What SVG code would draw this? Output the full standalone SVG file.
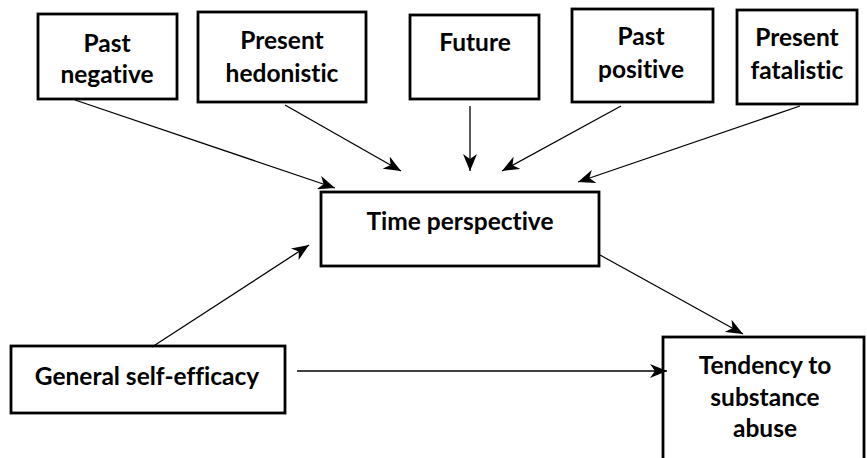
<svg xmlns="http://www.w3.org/2000/svg" width="867" height="458" viewBox="0 0 867 458">
<style>
.box{fill:#fff;stroke:#000;stroke-width:2.8}
.t{font-family:Lato,"Liberation Sans",sans-serif;font-weight:bold;font-size:24.5px;text-anchor:middle;fill:#000;font-variant-ligatures:none;font-feature-settings:"liga" 0}
.c{stroke:#000;stroke-width:1.3;fill:none;marker-end:url(#ah)}
</style>
<defs>
<marker id="ah" markerUnits="userSpaceOnUse" markerWidth="18" markerHeight="14" refX="17" refY="7" orient="auto">
<path d="M0,0 L17,7 L0,14 L5,7 z" fill="#000"/>
</marker>
</defs>
<rect width="867" height="458" fill="#fff"/>
<g id="past-negative"><rect class="box" x="38" y="14" width="139" height="85"/><text class="t" x="107" y="52">Past</text><text class="t" x="107" y="83">negative</text></g>
<g id="present-hedonistic"><rect class="box" x="198" y="12" width="168" height="90"/><text class="t" x="282" y="49">Present</text><text class="t" x="282" y="82">hedonistic</text></g>
<g id="future"><rect class="box" x="410" y="15" width="129" height="84"/><text class="t" x="475" y="51">Future</text></g>
<g id="past-positive"><rect class="box" x="572" y="9" width="141" height="93"/><text class="t" x="641" y="45">Past</text><text class="t" x="641" y="78">positive</text></g>
<g id="present-fatalistic"><rect class="box" x="737" y="10" width="120" height="94"/><text class="t" x="797" y="46">Present</text><text class="t" x="797" y="79">fatalistic</text></g>
<g id="time-perspective"><rect class="box" x="321" y="192" width="278" height="74"/><text class="t" x="460" y="230">Time perspective</text></g>
<g id="general-self-efficacy"><rect class="box" x="11" y="346" width="274" height="67"/><text class="t" x="147" y="385">General self-efficacy</text></g>
<g id="tendency"><rect class="box" x="663" y="337" width="201" height="130"/><text class="t" x="765" y="374">Tendency to</text><text class="t" x="765" y="406">substance</text><text class="t" x="765" y="437">abuse</text></g>
<g id="connectors">
<line class="c" x1="75" y1="100" x2="335" y2="188"/>
<line class="c" x1="285" y1="105" x2="401" y2="171"/>
<line class="c" x1="470" y1="106" x2="470" y2="171"/>
<line class="c" x1="621" y1="106" x2="502" y2="171"/>
<line class="c" x1="800" y1="106" x2="578" y2="182"/>
<line class="c" x1="152" y1="347" x2="309" y2="245"/>
<line class="c" x1="600" y1="255" x2="743" y2="334"/>
<line class="c" x1="297" y1="371" x2="667" y2="371"/>
</g>
</svg>
